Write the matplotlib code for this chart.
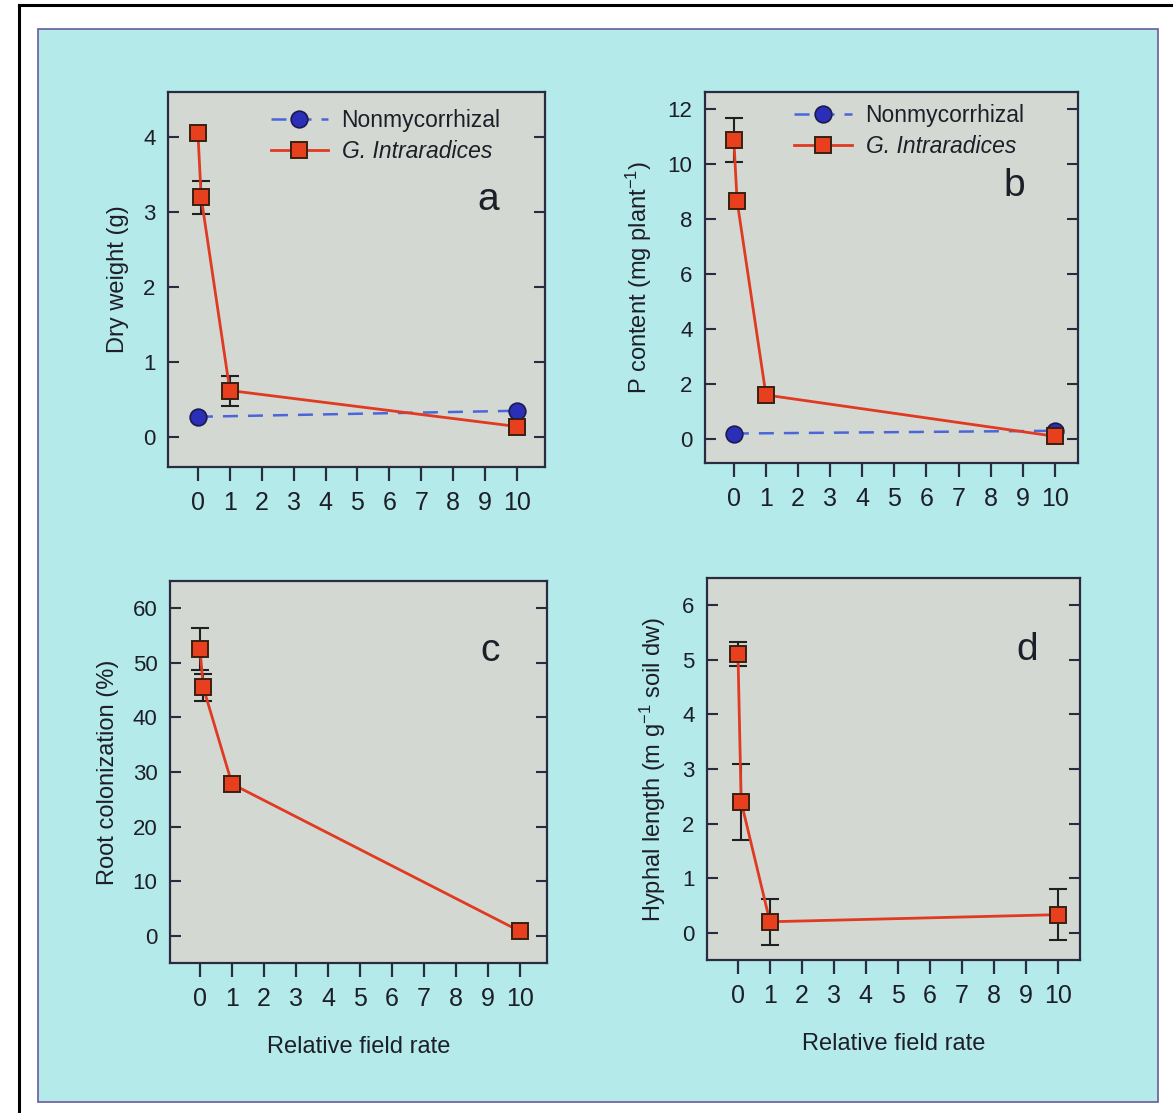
import matplotlib
matplotlib.use("Agg")
import matplotlib.pyplot as plt
from matplotlib.patches import Rectangle
from matplotlib.lines import Line2D

plt.rcParams['font.family'] = ['Liberation Sans', 'DejaVu Sans']
plt.rcParams['mathtext.fontset'] = 'custom'
plt.rcParams['mathtext.rm'] = 'Liberation Sans'
plt.rcParams['mathtext.it'] = 'Liberation Sans:italic'

# ---- data ----
x_myc = [0, 0.1, 1, 10]
x_non = [0, 10]
xticks = list(range(0, 11))

dw_myc = [4.05, 3.20, 0.62, 0.14]
dw_myc_err = [0.05, 0.22, 0.20, 0.05]
dw_non = [0.27, 0.35]

p_myc = [10.85, 8.65, 1.60, 0.10]
p_myc_err = [0.80, 0.15, 0.25, 0.10]
p_non = [0.20, 0.30]

rc_myc = [52.5, 45.5, 27.8, 0.8]
rc_myc_err = [3.8, 2.5, 0.5, 0.3]

hl_myc = [5.10, 2.40, 0.20, 0.33]
hl_myc_err = [0.22, 0.70, 0.42, 0.47]

panels = [
    dict(pos=[0.1432, 0.5804, 0.3214, 0.3369], y=dw_myc, e=dw_myc_err, non=dw_non,
         ylim=(-0.4, 4.6), yticks=[0, 1, 2, 3, 4], ylabel='Dry weight (g)',
         letter='a', lpos=(0.85, 0.685), legend=(0.272, 0.954), xlim=(-0.94, 10.88)),
    dict(pos=[0.6010, 0.5840, 0.3180, 0.3333], y=p_myc, e=p_myc_err, non=p_non,
         ylim=(-0.87, 12.6), yticks=[0, 2, 4, 6, 8, 10, 12],
         ylabel='P content (mg plant$^{-1}$)', letter='b', lpos=(0.83, 0.72),
         legend=(0.24, 0.968), xlim=(-0.9, 10.72)),
    dict(pos=[0.1449, 0.1348, 0.3214, 0.3432], y=rc_myc, e=rc_myc_err, non=None,
         ylim=(-5, 65), yticks=[0, 10, 20, 30, 40, 50, 60],
         ylabel='Root colonization (%)', letter='c', lpos=(0.85, 0.79),
         legend=None, xlim=(-0.94, 10.84)),
    dict(pos=[0.6027, 0.1375, 0.3180, 0.3432], y=hl_myc, e=hl_myc_err, non=None,
         ylim=(-0.5, 6.5), yticks=[0, 1, 2, 3, 4, 5, 6],
         ylabel='Hyphal length (m g$^{-1}$ soil dw)', letter='d', lpos=(0.858, 0.785),
         legend=None, xlim=(-0.97, 10.7)),
]

BG = '#b4ebea'
FACE = '#d4d8d2'
RED = '#e8401e'
REDLINE = '#e03a22'
BLUE = '#2b2fb8'
BLUELINE = '#4a66d8'
TXT = '#1e1e28'

fig = plt.figure(figsize=(11.73, 11.13), dpi=100)
fig.patch.set_facecolor('white')

# cyan background panel and outer border
fig.add_artist(Rectangle((38 / 1173, 1 - 1102 / 1113), (1158 - 38) / 1173, (1102 - 29) / 1113,
                         transform=fig.transFigure, facecolor=BG, edgecolor='#6a5a9a',
                         linewidth=1.2, zorder=0))
fig.add_artist(Line2D([19 / 1173, 19 / 1173], [0, 1 - 5 / 1113], transform=fig.transFigure,
                      color='black', linewidth=2.2))
fig.add_artist(Line2D([19 / 1173, 1], [1 - 5 / 1113, 1 - 5 / 1113], transform=fig.transFigure,
                      color='black', linewidth=2.2))

for p in panels:
    ax = fig.add_axes(p['pos'])
    ax.set_facecolor(FACE)
    for s in ax.spines.values():
        s.set_color('#2a2a40')
        s.set_linewidth(1.6)
    ax.errorbar(x_myc, p['y'], yerr=p['e'], fmt='none', ecolor='#202020',
                elinewidth=1.5, capsize=6.5, capthick=1.5, zorder=2)
    if p['non'] is not None:
        ax.plot(x_non, p['non'], linestyle=(0, (6, 4)), color=BLUELINE, linewidth=1.8,
                marker='o', markersize=12, markerfacecolor=BLUE,
                markeredgecolor='#1a1a50', markeredgewidth=1.2, zorder=3,
                label='Nonmycorrhizal')
    ax.plot(x_myc, p['y'], linestyle='-', color=REDLINE, linewidth=2.0,
            marker='s', markersize=12, markerfacecolor=RED,
            markeredgecolor='#3a2010', markeredgewidth=1.4, zorder=4,
            label='G. Intraradices')
    ax.set_xlim(*p['xlim'])
    ax.set_ylim(*p['ylim'])
    ax.set_xticks(xticks)
    ax.set_xticklabels([str(t) for t in xticks])
    ax.set_yticks(p['yticks'])
    ax.tick_params(axis='x', direction='out', length=10, width=1.6, pad=7,
                   labelsize=18, colors='#2a2a40', labelcolor=TXT)
    ax.tick_params(axis='y', direction='in', length=8, width=1.5, pad=9,
                   labelsize=16, right=True, colors='#2a2a40', labelcolor=TXT)
    ax.set_ylabel(p['ylabel'], fontsize=17, color=TXT, labelpad=10)
    if p['letter'] in ('c', 'd'):
        ax.set_xlabel('Relative field rate', fontsize=17, color=TXT, labelpad=18)
    ax.text(p['lpos'][0], p['lpos'][1], p['letter'],
            transform=ax.transAxes, fontsize=28, color=TXT, ha='center', va='baseline')
    if p['legend'] is not None:
        leg = ax.legend(loc='upper left', bbox_to_anchor=p['legend'], frameon=False,
                        fontsize=16.5, handlelength=2.5, handletextpad=0.6,
                        borderaxespad=0.0, borderpad=0.0, labelspacing=0.35)
        for t in leg.get_texts():
            t.set_color(TXT)
        leg.get_texts()[1].set_fontstyle('italic')

fig.savefig('out.png', dpi=100, facecolor='white')
